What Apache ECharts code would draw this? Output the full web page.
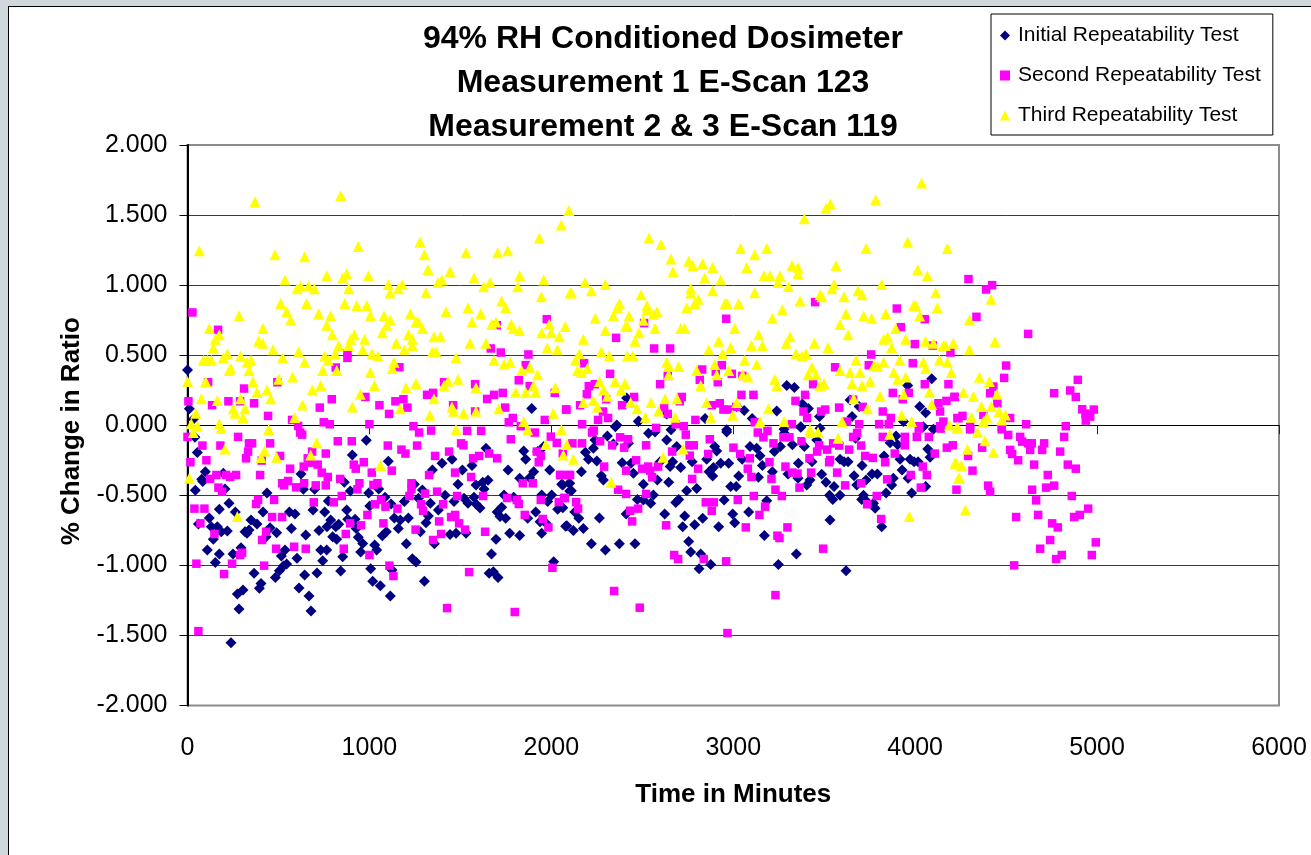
<!DOCTYPE html>
<html>
<head>
<meta charset="utf-8">
<title>94% RH Conditioned Dosimeter</title>
<script src="https://cdn.jsdelivr.net/npm/echarts@6/dist/echarts.min.js"></script>
<style>
  html, body { margin: 0; padding: 0; background: #d0d8db; overflow: hidden; }
  #frame { position: absolute; left: 8px; top: 6px; right: 0; bottom: 0; background: #fff; border-left: 1px solid #000; border-top: 1px solid #000; }
  #main { position: absolute; left: 0; top: 0; width: 1311px; height: 855px; }
</style>
</head>
<body>
<div id="frame"></div>
<div id="main"></div>
<script>
const titleLines = ['94% RH Conditioned Dosimeter', 'Measurement 1 E-Scan 123', 'Measurement 2 & 3 E-Scan 119'];
const seriesNames = ['Initial Repeatability Test', 'Second Repeatability Test', 'Third Repeatability Test'];

// [minutes, % change]
const initialTest = [
[0,.395],[10,.117],[1892,.119],[32,.043],[41,-.086],[54,-.195],[98,-.331],[78,-.386],[84,-.402],[43,-.464],[206,-.455],[197,-.343],[228,-.557],[175,-.6],[263,-.619],[120,-.662],[60,-.705],[131,-.724],[164,-.724],[186,-.76],[219,-.755],[142,-.814],[109,-.89],[175,-.919],[153,-.979],[250,-.919],[294,-.874],[366,-1.057],[274,-1.205],[305,-1.176],[283,-1.312],[239,-1.552],[395,-1.164],[404,-1.129],[613,-1.162],[668,-1.219],[679,-1.326],[644,-1.069],[712,-1.055],[842,-1.04],[743,-.967],[602,-.95],[483,-1.086],[505,-1.038],[527,-1.005],[545,-.99],[516,-.933],[536,-.89],[732,-.89],[765,-.89],[853,-.938],[952,-.905],[1007,-1.024],[1018,-1.114],[1060,-1.145],[1115,-1.219],[1124,-1.033],[1040,-.89],[1029,-.855],[963,-.843],[939,-.8],[1203,-.845],[1236,-.952],[1256,-.976],[1302,-1.114],[1357,-.845],[1671,-.919],[1696,-.814],[1658,-1.057],[1681,-1.045],[1707,-1.086],[2013,-.974],[316,-.76],[338,-.748],[327,-.771],[349,-.676],[382,-.705],[415,-.619],[432,-.795],[454,-.731],[490,-.767],[560,-.619],[591,-.633],[571,-.736],[650,-.783],[723,-.752],[690,-.605],[754,-.619],[767,-.724],[787,-.676],[815,-.724],[831,-.707],[798,-.795],[820,-.814],[875,-.605],[881,-.671],[921,-.671],[927,-.736],[774,-.54],[437,-.483],[624,-.348],[637,-.457],[699,-.457],[862,-.407],[895,-.469],[906,-.212],[983,-.107],[996,-.483],[1051,-.455],[1002,-.576],[1086,-.514],[1119,-.562],[1104,-.257],[1192,-.545],[1137,-.662],[1170,-.676],[1214,-.662],[1159,-.736],[1071,-.788],[1093,-.76],[1280,-.76],[1311,-.695],[1324,-.648],[1247,-.421],[1269,-.521],[1291,-.462],[1335,-.557],[1379,-.605],[1346,-.319],[1399,-.271],[1454,-.243],[1511,-.319],[1564,-.288],[1641,-.164],[1487,-.421],[1416,-.5],[1465,-.545],[1520,-.521],[1542,-.557],[1586,-.426],[1623,-.407],[1652,-.393],[1630,-.455],[1575,-.514],[1586,-.562],[1608,-.59],[1443,-.779],[1476,-.771],[1531,-.771],[1771,-.771],[1826,-.786],[1947,-.771],[1749,-.664],[1702,-.619],[1727,-.586],[1718,-.652],[1740,-.498],[1793,-.514],[1914,-.619],[1870,-.664],[1938,-.688],[1971,-.7],[2079,-.721],[1762,-.319],[1826,-.379],[1881,-.374],[1903,-.331],[1991,-.319],[1848,-.183],[1859,-.243],[1947,-.498],[1980,-.545],[2002,-.498],[2057,-.421],[2101,-.414],[2101,-.469],[2035,-.6],[1925,-.188],[1958,-.152],
[2352,-.01],[2308,-.076],[2479,.026],[2534,-.057],[2570,-.048],[2658,-.033],[2634,-.105],[2964,-.048],[3371,-.014],[2231,-.164],[2240,-.105],[2187,-.193],[2204,-.243],[2250,-.255],[2165,-.331],[2275,-.36],[2286,-.39],[2341,-.133],[2424,-.129],[2389,-.267],[2438,-.271],[2451,-.343],[2506,-.421],[2583,-.39],[2645,-.407],[2598,-.26],[2667,-.26],[2653,-.295],[2711,-.302],[2689,-.152],[2774,-.26],[2854,-.243],[2898,-.152],[2909,-.183],[2931,-.271],[2975,-.271],[2891,-.302],[2867,-.331],[2887,-.362],[3030,-.362],[2986,-.438],[3016,-.438],[2744,-.467],[2799,-.452],[3138,-.371],[3160,-.288],[3215,-.331],[3049,-.243],[3092,-.152],[3129,-.164],[3147,-.217],[3226,-.188],[3259,-.152],[3281,-.057],[3325,-.14],[3391,-.152],[3459,-.105],[3433,-.26],[3358,-.271],[3301,-.348],[3356,-.379],[3404,-.426],[3422,-.39],[3486,-.35],[3510,-.407],[3554,-.438],[3587,-.243],[3609,-.26],[3631,-.26],[3708,-.288],[3664,-.36],[3730,-.39],[3763,-.348],[3792,-.348],[3679,-.426],[3840,-.483],[3880,-.379],[3871,-.426],[3928,-.319],[3961,-.379],[3917,-.243],[3972,-.243],[3994,-.26],[4016,-.26],[4082,-.229],[4069,-.169],[4058,-.438],[3981,-.483],[3829,-.219],[3904,-.14],[3862,-.124],[3895,-.076],[3578,-.129],[3672,-.093],[3529,-.5],[3547,-.529],[3587,-.5],[3716,-.5],[3706,-.529],[3780,-.593],[3771,-.557],[3734,-.545],[3184,-.538],[3085,-.619],[2997,-.633],[3008,-.695],[2920,-.724],[2832,-.664],[2788,-.71],[2733,-.648],[2722,-.724],[2623,-.633],[2950,-.533],[2684,-.552],[2700,-.529],[2561,-.498],[2546,-.557],[2473,-.529],[2506,-.533],[2411,-.633],[2264,-.662],[2151,-.664],[2129,-.619],[2110,-.467],[2099,-.414],[2063,-.426],[2063,-.588],[2085,-.717],[2121,-.752],[2176,-.736],[2220,-.845],[2297,-.89],[2374,-.845],[2460,-.845],[2755,-.829],[2766,-.905],[2821,-.919],[2812,-1.024],[2876,-.993],[3171,-.786],[3248,-.993],[3347,-.919],[3532,-.676],[3620,-1.038],[3816,-.724],
[4091,.331],[3959,.283],[3294,.283],[3336,.269],[3642,.181],[4025,.133],[4058,.09],[3380,.152],[3413,.119],[3692,.133],[3653,.062],[3239,.102],[3060,.105],[3104,.048],[2845,.048],[2414,.195],[2480,.031],[2360,.002],[2634,.081],[3474,.062],[3936,.026],[4045,-.01],[4100,-.029],[3019,.133],[3371,-.01],[3477,-.021],[3279,-.029],[2964,-.033]
];

const secondTest = [
[27,.805],[168,.681],[1975,.757],[1700,.714],[1667,.548],[1722,.519],[1874,.505],[879,.514],[879,.481],[815,.412],[1165,.414],[1859,.429],[1821,.321],[113,.307],[494,.307],[1410,.307],[1581,.293],[1881,.279],[311,.262],[5,.171],[135,.143],[225,.171],[289,.171],[366,.157],[793,.186],[978,.202],[1055,.143],[1143,.171],[1187,.186],[1209,.126],[1108,.081],[727,.126],[443,.067],[575,.038],[608,-.005],[749,.021],[782,.007],[1000,.007],[1242,-.007],[1317,.217],[1350,.231],[1460,.143],[1581,.098],[1647,.188],[1685,.217],[1733,.231],[1746,.126],[2019,.231],[2083,.112],[1964,.038],[1788,.052],[1766,.021],[1832,-.007],
[1273,-.052],[1339,-.038],[1537,-.04],[1614,-.04],[1909,-.052],[1997,-.081],[1777,-.1],[2030,-.126],[0,-.083],[278,-.083],[619,-.052],[630,-.067],[82,-.145],[181,-.145],[338,-.129],[355,-.129],[454,-.129],[826,-.114],[903,-.114],[1101,-.145],[1262,-.145],[1504,-.129],[1517,-.143],[1176,-.174],[1198,-.202],[760,-.202],[685,-.188],[333,-.188],[322,-.236],[509,-.219],[661,-.236],[408,-.252],[16,-.264],[104,-.25],[1361,-.219],[1438,-.188],[1570,-.236],[1603,-.219],[1658,-.202],[1702,-.236],[1920,-.188],[1942,-.219],[1931,-.264],[2063,-.202],[674,-.267],[716,-.281],[639,-.295],[564,-.31],[914,-.281],[925,-.31],[969,-.264],[1013,-.338],[1123,-.324],[738,-.338],[771,-.369],[159,-.355],[212,-.355],[234,-.369],[267,-.355],[399,-.355],[124,-.383],[1471,-.338],[1328,-.355],[1559,-.369],[2052,-.355],[2096,-.355],[839,-.383],[945,-.414],[1231,-.414],[1044,-.414],[1022,-.426],[553,-.398],[520,-.414],[531,-.429],[597,-.443],[641,-.414],[705,-.429],[760,-.429],[1843,-.414],[1898,-.414],[170,-.445],[190,-.474],[934,-.457],[1231,-.457],[848,-.505],[1220,-.505],[1306,-.488],[1372,-.474],[1482,-.505],[1625,-.505],[1757,-.519],[1810,-.533],[1821,-.562],[1942,-.533],[2041,-.548],[2074,-.519],[388,-.533],[377,-.562],[476,-.533],[694,-.55],[804,-.55],[1064,-.533],[1031,-.564],[1088,-.581],[1284,-.564],[1405,-.564],[1295,-.61],[38,-.595],[93,-.595],[1154,-.595],[989,-.64],[465,-.655],[520,-.655],[1471,-.64],[1449,-.655],[1383,-.686],[1493,-.7],[1854,-.64],[1953,-.669],[71,-.7],[894,-.7],[954,-.714],[1077,-.7],[1984,-.729],[1526,-.745],[1636,-.76],[1254,-.745],[148,-.776],[432,-.76],[1394,-.776],[870,-.776],[410,-.819],[1350,-.819],[487,-.881],[586,-.867],[650,-.881],[859,-.881],[289,-.926],[300,-.91],[1000,-.926],[49,-.988],[245,-.988],[421,-1.002],[1110,-1.002],[201,-1.062],[1132,-1.076],[1548,-1.048],[2006,-1.017],[1427,-1.305],[1799,-1.333],[60,-1.469],
[3450,.879],[3899,.833],[2961,.76],[4053,.757],[2510,.729],[3921,.7],[2356,.624],[2565,.548],[2653,.548],[3998,.579],[4097,.569],[4194,.519],[3758,.505],[3987,.443],[2180,.443],[3745,.429],[2937,.429],[3560,.414],[2829,.398],[2323,.367],[2992,.367],[3050,.352],[2904,.383],[2816,.324],[2640,.352],[2915,.307],[2598,.293],[2206,.279],[2239,.293],[3439,.293],[4053,.293],[4183,.293],[2195,.221],[3045,.217],[3111,.217],[3395,.217],[3877,.231],[3965,.231],[2455,.202],[2717,.202],[4218,.202],[2301,.186],[3342,.174],[3659,.183],[3932,.186],[4128,.157],[4172,.174],[2706,.171],[2389,.143],[2882,.143],[2926,.157],[3016,.131],[2946,.112],[2970,.112],[2158,.143],[2081,.112],[2620,.126],[3712,.131],[3582,.126],[3483,.098],[3505,.112],[3386,.098],[3822,.098],[4137,.098],[2284,.098],[2312,.052],[2257,.038],[2640,.081],[2792,.038],[3406,.052],[3866,.052],[4232,.052],[2169,.007],[2576,-.019],[2684,.007],[2728,-.007],[3118,.021],[3322,.007],[3692,.007],[3802,.007],[3855,.007],[4022,-.007],[4137,-.007],[4155,.026],[3624,.026],
[2224,-.052],[2233,-.038],[2739,-.067],[2871,-.1],[3135,-.052],[3188,-.04],[3166,-.086],[3276,-.086],[3309,-.086],[3221,-.129],[3375,-.114],[2378,-.086],[2422,-.1],[2268,-.114],[2334,-.143],[2400,-.16],[2521,-.143],[2116,-.129],[2169,-.129],[2664,-.188],[2759,-.143],[2783,-.143],[2761,-.217],[2862,-.205],[3001,-.16],[3038,-.205],[3091,-.236],[3199,-.264],[3472,-.143],[3461,-.188],[3516,-.174],[3549,-.129],[3582,-.145],[3637,-.174],[3659,-.083],[3681,-.055],[3703,-.145],[3725,-.219],[3767,-.233],[3822,-.083],[3943,-.083],[3943,-.143],[3888,-.202],[3835,-.264],[4009,-.083],[4075,-.083],[4108,-.202],[4174,-.16],[4207,-.143],[4020,-.024],[4141,-.024],[2466,-.25],[3419,-.236],[3532,-.248],[3527,-.264],[2290,-.295],[2499,-.31],[2532,-.295],[2543,-.324],[2587,-.295],[2554,-.371],[2411,-.324],[2807,-.31],[2774,-.383],[3080,-.31],[3100,-.369],[3210,-.383],[3287,-.295],[3325,-.338],[3353,-.345],[3428,-.338],[3571,-.338],[3615,-.429],[3703,-.414],[3846,-.386],[3976,-.355],[4042,-.295],[4064,-.355],[4031,-.445],[4227,-.46],[3364,-.445],[3232,-.46],[3267,-.505],[3113,-.505],[3025,-.533],[3175,-.581],[3144,-.64],[2367,-.46],[2411,-.49],[2521,-.49],[2070,-.519],[2136,-.548],[2147,-.595],[2477,-.595],[2433,-.61],[2444,-.686],[2631,-.714],[2849,-.55],[2893,-.55],[2882,-.61],[3789,-.505],[3736,-.564],[3813,-.669],[3069,-.729],[3298,-.729],[3243,-.788],[3254,-.805],[3494,-.881],[2675,-.926],[2697,-.955],[2838,-.955],[2961,-.971],[2345,-1.183],[2486,-1.302],[3232,-1.212],[2968,-1.483],[2048,-.355],[2103,-.355],
[4293,1.043],[4390,.969],[4423,1.0],[4337,.774],[4621,.652],[4500,.426],[4489,.338],[4894,.324],[4764,.229],[4852,.248],[4883,.202],[4918,.114],[4982,.112],[4936,.083],[4962,.062],[4938,.033],[4430,.276],[4412,.229],[4216,.202],[4452,.157],[4522,.052],[4238,.05],[4260,.067],[4375,.074],[4610,.007],[4828,-.007],[4476,-.014],[4302,-.01],
[4302,-.029],[4476,-.029],[4511,-.069],[4577,-.083],[4588,-.117],[4621,-.129],[4641,-.129],[4632,-.176],[4709,-.129],[4698,-.176],[4819,-.083],[4797,-.188],[4522,-.176],[4533,-.205],[4566,-.25],[4654,-.281],[4839,-.281],[4883,-.31],[4729,-.355],[4643,-.46],[4720,-.445],[4764,-.431],[4861,-.505],[4665,-.536],[4951,-.595],[4905,-.64],[4874,-.655],[4676,-.64],[4555,-.655],[4753,-.7],[4784,-.729],[4742,-.819],[4993,-.836],[4687,-.881],[4971,-.926],[4806,-.926],[4775,-.955],[4544,-1.0],[4368,-.16],[4291,-.219],[4315,-.324],[4401,-.431],[4412,-.474]
];

const thirdTest = [
[371,1.595],[842,1.638],[65,1.245],[481,1.217],[644,1.202],[939,1.276],[1278,1.307],[1302,1.217],[1531,1.231],[1705,1.231],[1760,1.245],[1934,1.336],[2055,1.429],[2096,1.533],[536,1.036],[602,.974],[622,.993],[666,.993],[697,.974],[765,1.067],[853,1.05],[875,1.081],[886,.974],[994,1.067],[1104,1.005],[1159,.974],[1181,1.005],[1113,.943],[1322,1.112],[1311,.945],[1377,1.019],[1399,1.036],[1443,1.098],[1575,1.05],[1628,.988],[1663,1.019],[1826,1.067],[1815,.988],[1958,1.036],[1945,.917],[2103,.943],[512,.869],[655,.869],[864,.869],[930,.855],[985,.855],[1727,.886],[1749,.838],[1542,.838],[1421,.81],[1225,.795],[1612,.795],[721,.795],[787,.781],[545,.81],[567,.752],[283,.781],[1005,.781],[1080,.781],[1115,.752],[1095,.714],[765,.714],[1256,.736],[1269,.736],[1291,.69],[1564,.736],[1672,.721],[1696,.736],[1780,.721],[1791,.69],[1825,.676],[1989,.721],[1947,.66],[2000,.66],[2077,.705],[2044,.631],[120,.69],[415,.69],[175,.645],[153,.614],[142,.552],[391,.6],[413,.586],[470,.538],[796,.645],[917,.645],[897,.614],[974,.614],[886,.569],[831,.569],[811,.51],[963,.538],[1071,.66],[1214,.645],[1236,.614],[1236,.569],[1148,.586],[1192,.538],[1355,.631],[1390,.631],[1346,.524],[1366,.524],[1553,.586],[1641,.586],[1978,.552],[2033,.538],[611,.524],[219,.51],[292,.495],[197,.481],[87,.464],[109,.464],[131,.464],[349,.464],[327,.45],[523,.481],[754,.495],[774,.464],[644,.45],[1014,.51],[1047,.495],[1476,.481],[1135,.45],[1126,.405],[1685,.464],[1740,.436],[1773,.45],[1837,.39],[1881,.414],[1924,.36],[238,.405],[230,.39],[338,.39],[743,.39],[820,.39],[1005,.376],[0,.312],[100,.312],[360,.312],[501,.329],[578,.345],[732,.283],[686,.252],[1027,.283],[1201,.267],[1256,.298],[1410,.283],[1432,.314],[1487,.329],[1586,.267],[1804,.236],[1859,.236],[1902,.281],[1914,.236],[2022,.267],[382,.236],[437,.252],[457,.19],[76,.19],[164,.176],[292,.19],[950,.221],[1355,.19],[633,.145],[906,.131],[1170,.117],[1454,.131],[1463,.1],[1518,.086],[1586,.1],[1711,.117],[1333,.071],[1848,.026],[2011,.086],[252,.117],[261,.086],[316,.117],[305,.055],[45,.086],[589,.055],[21,.01],[54,-.005],[175,.01],[446,-.03],[1870,-.033],[1476,-.03],[2055,-.03],
[32,-.052],[186,-.024],[710,-.124],[205,-.169],[424,-.183],[404,-.231],[490,-.229],[677,-.212],[10,-.379],[1060,-.288],[274,-.652],[1969,-.138],[2085,-.138],[2066,-.212],
[4036,1.729],[3783,1.61],[3534,1.579],[3510,1.548],[3391,1.474],[2537,1.336],[2603,1.29],[2658,1.186],[2669,1.095],[2755,1.171],[2777,1.14],[2832,1.155],[2887,1.126],[2843,1.05],[2931,1.036],[2766,.974],[2766,.943],[2887,.96],[2808,.9],[2788,.869],[2744,.838],[3041,1.262],[3118,1.217],[3184,1.262],[3074,1.126],[3169,1.067],[3202,1.067],[3257,1.067],[3246,1.019],[3303,.99],[3323,1.14],[3356,1.126],[3356,1.081],[3565,1.14],[3554,1.005],[3543,.974],[3730,1.262],[3959,1.307],[4177,1.262],[4014,1.11],[4067,1.067],[3816,1.005],[3686,.96],[3708,.931],[3609,.917],[3477,.931],[3488,.917],[3367,.886],[3118,.945],[4113,.945],[4122,.838],[3992,.855],[4003,.855],[4025,.779],[2185,1.019],[2220,.96],[2297,1.005],[2110,.945],[2493,.931],[2374,.869],[2363,.838],[2526,.855],[2526,.824],[2581,.81],[2561,.793],[2427,.779],[2341,.779],[2242,.764],[2506,.75],[2407,.705],[2418,.705],[2570,.69],[2297,.676],[2482,.66],[2460,.6],[2176,.614],[2711,.69],[2733,.69],[2955,.869],[2966,.869],[3030,.869],[3008,.69],[3215,.764],[3270,.824],[3620,.795],[3717,.779],[3761,.764],[3838,.795],[3587,.719],[3631,.645],[3312,.631],[3292,.586],[3140,.645],[2920,.6],[3100,.569],[3160,.569],[2986,.555],[2865,.538],[2942,.51],[3446,.586],[3521,.555],[3345,.51],[3378,.495],[3400,.51],[3871,.555],[3827,.614],[3849,.629],[3893,.69],[3948,.614],[4056,.6],[4100,.586],[4155,.569],[4166,.569],[4210,.586],[2275,.524],[2319,.495],[2418,.495],[2449,.495],[2154,.51],[2132,.464],[2143,.39],[2165,.376],[2198,.405],[2634,.45],[2645,.424],[2700,.419],[2645,.36],[2799,.39],[2898,.433],[2909,.36],[2975,.39],[3063,.464],[3129,.433],[2821,.283],[3052,.36],[3081,.345],[2264,.312],[2350,.312],[2405,.298],[2383,.252],[2286,.252],[2308,.207],[2231,.176],[2176,.162],[2253,.131],[2436,.162],[2471,.117],[2548,.162],[2590,.102],[2517,.057],[2625,.19],[2691,.19],[2680,.057],[2854,.162],[2876,.057],[2997,.071],[3019,.162],[3193,.117],[3147,.026],[3279,.026],[3228,.329],[3239,.283],[3433,.414],[3411,.36],[3455,.36],[3477,.283],[3499,.298],[3587,.39],[3642,.376],[3675,.464],[3697,.376],[3653,.298],[3708,.283],[3752,.314],[3774,.429],[3794,.419],[3827,.45],[3915,.464],[3882,.376],[3904,.329],[3948,.345],[4045,.45],[4058,.405],[4133,.464],[4177,.45],[4199,.376],[4078,.236],[3807,.207],[3937,.221],[3662,.19],[3738,.117],[3926,.071],[3598,.026],[3981,.026],[4091,.148],[4188,.002],[4232,-.01],[3422,-.03],
[2121,-.243],[2328,-.407],[2614,-.229],[2724,-.169],[3422,-.052],[3466,-.048],[3576,-.093],[3860,-.064],[4225,-.271],[4238,-.379],[3968,-.652],
[4417,.9],[4298,.752],[4439,.598],[4298,.538],[4353,.343],[4408,.312],[4265,.233],[4320,.205],[4450,.221],[4364,.133],[4419,.133],[4461,.098],[4496,.074],[4309,.057],[4394,.057],[4375,.026],[4476,.038],[4232,-.021],[4342,-.05],[4384,-.11],[4287,-.171],[4430,-.195],[4219,-.271],[4254,-.288],[4243,-.379],[4276,-.605]
];

const font = '"Liberation Sans", Arial, sans-serif';
const chart = echarts.init(document.getElementById('main'), null, { renderer: 'canvas' });

chart.setOption({
  backgroundColor: 'transparent',
  animation: false,
  title: {
    text: titleLines.join('\n'),
    left: 658,
    top: 12,
    textAlign: 'center',
    textStyle: { fontFamily: font, fontSize: 32, fontWeight: 'bold', color: '#000', lineHeight: 44 }
  },
  legend: {
    orient: 'vertical',
    left: 991,
    top: 14,
    padding: [11, 12, 9, 9],
    itemGap: 19,
    itemWidth: 10,
    itemHeight: 10,
    backgroundColor: '#fff',
    borderColor: '#000',
    borderWidth: 1,
    borderRadius: 0,
    selectedMode: false,
    textStyle: { fontFamily: font, fontSize: 21, color: '#000', padding: [0, 0, 0, 3] },
    data: seriesNames
  },
  grid: {
    left: 187.5, top: 145, width: 1091.5, height: 560.5,
    outerBoundsMode: 'none',
    show: true, borderColor: '#8c8c8c', borderWidth: 2, backgroundColor: '#fff'
  },
  xAxis: {
    type: 'value',
    min: 0,
    max: 6000,
    interval: 1000,
    name: 'Time in Minutes',
    nameLocation: 'middle',
    nameGap: 76,
    nameTextStyle: { fontFamily: font, fontSize: 26, fontWeight: 'bold', color: '#000' },
    axisLine: { onZero: true, lineStyle: { color: '#000', width: 1 } },
    axisTick: { length: 9, lineStyle: { color: '#222', width: 1 } },
    axisLabel: { margin: 30, fontFamily: font, fontSize: 25, color: '#000', formatter: v => String(v) },
    splitLine: { show: false }
  },
  yAxis: {
    type: 'value',
    min: -2,
    max: 2,
    interval: 0.5,
    name: '% Change in Ratio',
    nameLocation: 'middle',
    nameGap: 103,
    nameTextStyle: { fontFamily: font, fontSize: 26, fontWeight: 'bold', color: '#000', padding: [0, 12, 0, 0] },
    axisLine: { onZero: false, lineStyle: { color: '#000', width: 2 } },
    axisTick: { length: 8, lineStyle: { color: '#000', width: 1 } },
    axisLabel: { margin: 20, fontFamily: font, fontSize: 25, color: '#000', formatter: v => v.toFixed(3) },
    splitLine: { show: true, showMinLine: false, showMaxLine: false, lineStyle: { color: '#3a3a3a', width: 1 } }
  },
  series: [
    { name: seriesNames[0], type: 'scatter', data: initialTest, symbol: 'diamond', symbolSize: 11, itemStyle: { color: '#000080', opacity: 1 }, z: 3 },
    { name: seriesNames[1], type: 'scatter', data: secondTest, symbol: 'rect', symbolSize: 8.5, itemStyle: { color: '#ff00ff', opacity: 1 }, z: 4 },
    { name: seriesNames[2], type: 'scatter', data: thirdTest, symbol: 'triangle', symbolSize: 11, itemStyle: { color: '#ffff00', opacity: 1 }, z: 5 }
  ]
});
</script>
</body>
</html>
